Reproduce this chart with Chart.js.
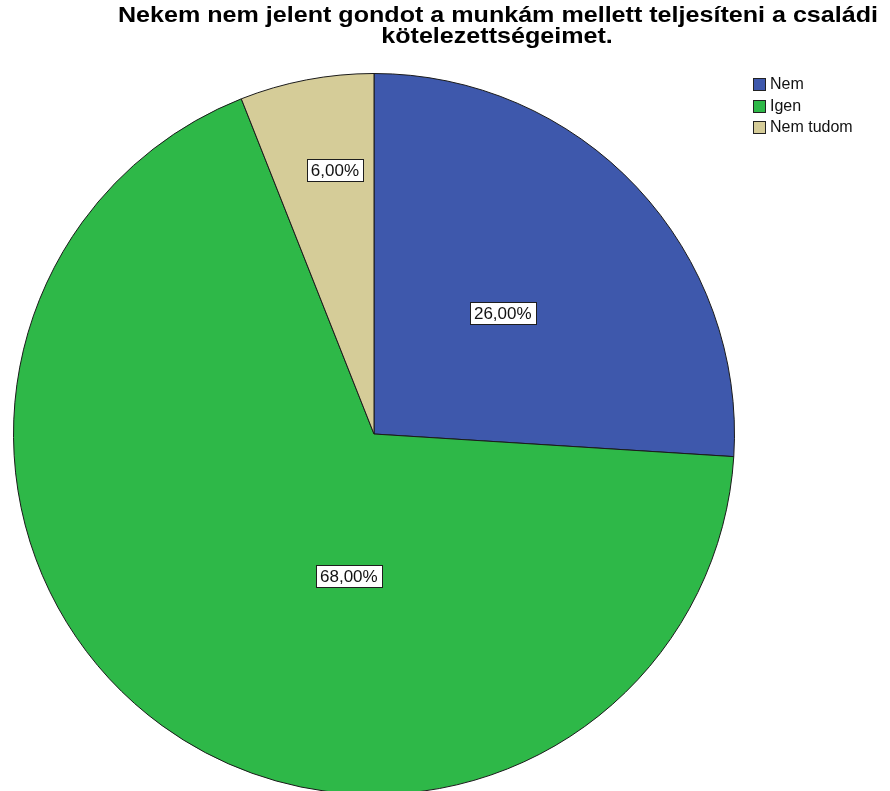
<!DOCTYPE html>
<html>
<head>
<meta charset="utf-8">
<script src="https://cdn.jsdelivr.net/npm/chart.js@4.4.0/dist/chart.umd.min.js"></script>
<style>
    html, body { margin: 0; padding: 0; background: #fff; overflow: hidden; }
    #wrap { position: relative; width: 890px; height: 800px; }
</style>
</head>
<body>
<div id="wrap"><canvas id="pieChart"></canvas></div>
<script>
const titleLines = ['Nekem nem jelent gondot a munkám mellett teljesíteni a családi', 'kötelezettségeimet.'];
const categories = ['Nem', 'Igen', 'Nem tudom'];
const percentages = [26, 68, 6];
const sliceColors = ['#3e58ac', '#2eb848', '#d5cc98'];

// where each value box sits inside its slice: t = share of the slice angle, r = share of the radius
const labelSpots = [
    { t: 0.5, r: 0.49 },
    { t: 0.394, r: 0.40 },
    { t: 0.61, r: 0.74 }
];

const FONT = 'Arial, "Liberation Sans", sans-serif';

// wide title text, stretched a little sideways
function drawWideText(ctx, text, cx, baseline, width) {
    const natural = ctx.measureText(text).width;
    ctx.save();
    ctx.translate(cx, baseline);
    ctx.scale(width / natural, 1);
    ctx.textAlign = 'center';
    ctx.fillText(text, 0, 0);
    ctx.restore();
}

const pieDecor = {
    id: 'pieDecor',
    afterDatasetsDraw(chart) {
        const ctx = chart.ctx;
        const meta = chart.getDatasetMeta(0);
        ctx.save();

        // value boxes
        ctx.font = '17px ' + FONT;
        ctx.textAlign = 'center';
        ctx.textBaseline = 'middle';
        meta.data.forEach((arc, i) => {
            const spot = labelSpots[i];
            const a = arc.startAngle + (arc.endAngle - arc.startAngle) * spot.t;
            const r = arc.outerRadius * spot.r;
            const x = arc.x + Math.cos(a) * r;
            const y = arc.y + Math.sin(a) * r;
            const text = percentages[i].toFixed(2).replace('.', ',') + '%';
            const w = Math.round(ctx.measureText(text).width + 8);
            const h = 22;
            const bx = Math.round(x - w / 2) + 0.5;
            const by = Math.round(y - h / 2) + 0.5;
            ctx.fillStyle = '#ffffff';
            ctx.fillRect(bx, by, w, h);
            ctx.strokeStyle = '#1e1e1e';
            ctx.lineWidth = 1;
            ctx.strokeRect(bx, by, w, h);
            ctx.fillStyle = '#111';
            ctx.fillText(text, x, y + 1);
        });

        // title
        ctx.font = 'bold 22px ' + FONT;
        ctx.fillStyle = '#000';
        ctx.textBaseline = 'alphabetic';
        const natural = ctx.measureText(titleLines[0]).width;
        const stretch = 760 / natural;
        drawWideText(ctx, titleLines[0], 498, 22, 760);
        drawWideText(ctx, titleLines[1], 497, 43, ctx.measureText(titleLines[1]).width * stretch);

        // legend
        ctx.font = '16px ' + FONT;
        ctx.textAlign = 'left';
        ctx.textBaseline = 'middle';
        categories.forEach((name, i) => {
            const cy = 84 + i * 21.5;
            ctx.fillStyle = sliceColors[i];
            ctx.fillRect(753.5, Math.round(cy - 6) + 0.5, 12, 12);
            ctx.strokeStyle = '#222';
            ctx.strokeRect(753.5, Math.round(cy - 6) + 0.5, 12, 12);
            ctx.fillStyle = '#111';
            ctx.fillText(name, 770, cy + 1);
        });
        ctx.restore();
    }
};

new Chart(document.getElementById('pieChart'), {
    type: 'pie',
    data: {
        labels: categories,
        datasets: [{
            data: percentages,
            backgroundColor: sliceColors,
            borderColor: '#1a1a1a',
            borderWidth: 1
        }]
    },
    options: {
        responsive: true,
        maintainAspectRatio: false,
        animation: false,
        layout: {
            padding: { left: 13, top: 73, right: 155, bottom: 5 }
        },
        plugins: {
            legend: { display: false },
            title: { display: false },
            tooltip: { enabled: false }
        }
    },
    plugins: [pieDecor]
});
</script>
</body>
</html>
